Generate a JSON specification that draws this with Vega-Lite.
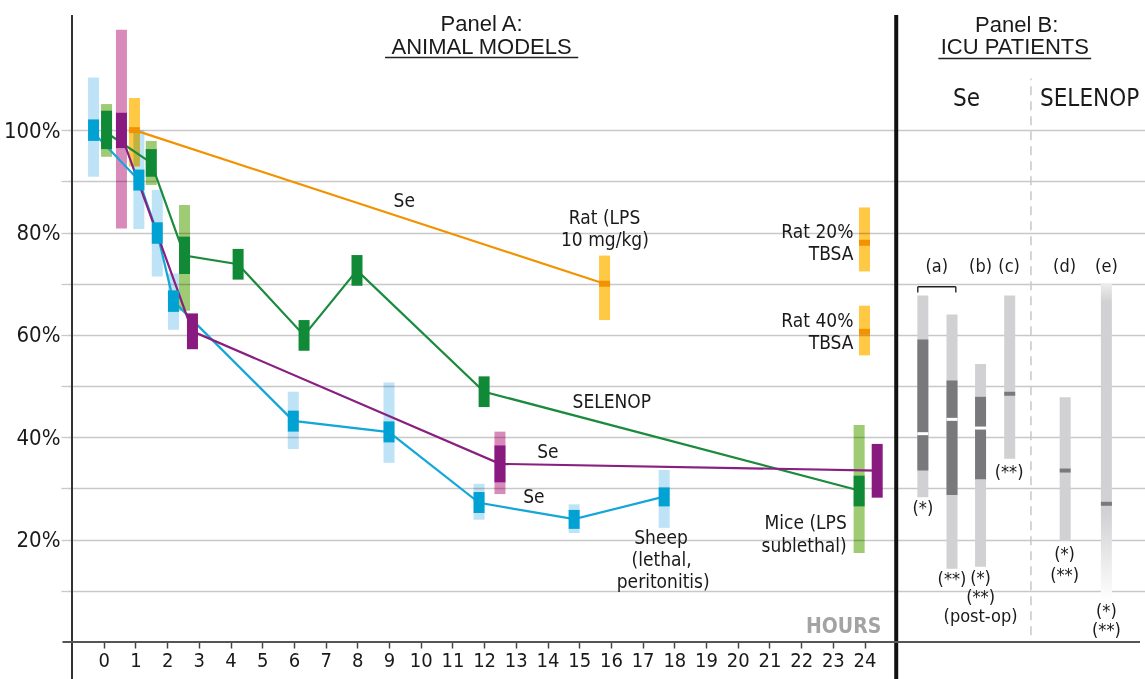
{
  "$schema": "https://vega.github.io/schema/vega-lite/v6.json",
  "width": 1078,
  "height": 627,
  "autosize": {"type": "none"},
  "padding": {"left": 67, "top": 15, "right": 0, "bottom": 37},
  "background": "white",
  "config": {
    "view": {"stroke": null},
    "font": "Liberation Sans Narrow, Arial Narrow, DejaVu Sans Condensed, sans-serif",
    "axis": {"labelFont": "Liberation Sans Narrow, Arial Narrow, DejaVu Sans Condensed, sans-serif"}
  },
  "datasets": {
    "ranges": [
      {"s": "sheep", "x": -0.32, "lo": 90.9, "hi": 110.3},
      {"s": "sheep", "x": 1.11, "lo": 80.7, "hi": 100.0},
      {"s": "sheep", "x": 1.69, "lo": 71.4, "hi": 88.3},
      {"s": "sheep", "x": 2.2, "lo": 61.0, "hi": 72.0},
      {"s": "sheep", "x": 5.98, "lo": 37.7, "hi": 48.9},
      {"s": "sheep", "x": 9.0, "lo": 35.0, "hi": 50.7},
      {"s": "sheep", "x": 11.84, "lo": 23.9, "hi": 30.9},
      {"s": "sheep", "x": 14.84, "lo": 21.3, "hi": 26.9},
      {"s": "sheep", "x": 17.68, "lo": 22.3, "hi": 33.6},
      {"s": "selenop", "x": 0.09, "lo": 94.8, "hi": 105.1},
      {"s": "selenop", "x": 1.5, "lo": 89.3, "hi": 97.9},
      {"s": "selenop", "x": 2.55, "lo": 64.7, "hi": 85.4},
      {"s": "selenop", "x": 23.83, "lo": 17.4, "hi": 42.4},
      {"s": "mice_se", "x": 0.56, "lo": 80.8, "hi": 119.6},
      {"s": "mice_se", "x": 12.5, "lo": 28.9, "hi": 41.1},
      {"s": "rat", "x": 0.97, "lo": 92.9, "hi": 106.3},
      {"s": "rat", "x": 15.8, "lo": 62.9, "hi": 75.5},
      {"s": "rat", "x": 24.0, "lo": 72.4, "hi": 84.9},
      {"s": "rat", "x": 24.0, "lo": 56.0, "hi": 65.7}
    ],
    "boxes": [
      {"s": "sheep", "x": -0.32, "lo": 97.9, "hi": 102.1},
      {"s": "sheep", "x": 1.11, "lo": 88.2, "hi": 92.3},
      {"s": "sheep", "x": 1.69, "lo": 77.8, "hi": 82.0},
      {"s": "sheep", "x": 2.2, "lo": 64.5, "hi": 68.7},
      {"s": "sheep", "x": 5.98, "lo": 41.1, "hi": 45.2},
      {"s": "sheep", "x": 9.0, "lo": 39.0, "hi": 43.1},
      {"s": "sheep", "x": 11.84, "lo": 25.2, "hi": 29.3},
      {"s": "sheep", "x": 14.84, "lo": 22.1, "hi": 25.8},
      {"s": "sheep", "x": 17.68, "lo": 26.5, "hi": 30.2},
      {"s": "selenop", "x": 0.09, "lo": 96.3, "hi": 103.8},
      {"s": "selenop", "x": 1.5, "lo": 90.9, "hi": 96.3},
      {"s": "selenop", "x": 2.55, "lo": 71.9, "hi": 79.2},
      {"s": "selenop", "x": 4.24, "lo": 70.8, "hi": 76.8},
      {"s": "selenop", "x": 6.32, "lo": 56.9, "hi": 62.9},
      {"s": "selenop", "x": 7.99, "lo": 69.6, "hi": 75.6},
      {"s": "selenop", "x": 12.0, "lo": 45.9, "hi": 51.9},
      {"s": "selenop", "x": 23.83, "lo": 26.5, "hi": 32.5},
      {"s": "mice_se", "x": 0.56, "lo": 96.5, "hi": 103.4},
      {"s": "mice_se", "x": 2.8, "lo": 57.2, "hi": 64.2},
      {"s": "mice_se", "x": 12.5, "lo": 31.2, "hi": 38.4},
      {"s": "mice_se", "x": 24.4, "lo": 28.2, "hi": 38.7}
    ],
    "centers": [
      {"s": "sheep", "x": -0.32, "y": 99.5},
      {"s": "sheep", "x": 1.11, "y": 90.2},
      {"s": "sheep", "x": 1.69, "y": 79.9},
      {"s": "sheep", "x": 2.2, "y": 66.6},
      {"s": "sheep", "x": 5.98, "y": 43.2},
      {"s": "sheep", "x": 9.0, "y": 41.0},
      {"s": "sheep", "x": 11.84, "y": 27.2},
      {"s": "sheep", "x": 14.84, "y": 24.0},
      {"s": "sheep", "x": 17.68, "y": 28.4},
      {"s": "selenop", "x": 0.09, "y": 99.5},
      {"s": "selenop", "x": 1.5, "y": 93.6},
      {"s": "selenop", "x": 2.55, "y": 75.5},
      {"s": "selenop", "x": 4.24, "y": 73.8},
      {"s": "selenop", "x": 6.32, "y": 59.9},
      {"s": "selenop", "x": 7.99, "y": 72.6},
      {"s": "selenop", "x": 12.0, "y": 48.9},
      {"s": "selenop", "x": 23.83, "y": 29.6},
      {"s": "mice_se", "x": 0.56, "y": 99.0},
      {"s": "mice_se", "x": 2.8, "y": 60.7},
      {"s": "mice_se", "x": 12.5, "y": 34.8},
      {"s": "mice_se", "x": 24.4, "y": 33.5},
      {"s": "rat", "x": 0.97, "y": 100.0},
      {"s": "rat", "x": 15.8, "y": 70.0}
    ],
    "ratmed": [
      {"x": 0.97, "y": 100.0},
      {"x": 15.8, "y": 70.0},
      {"x": 24.0, "y": 78.0},
      {"x": 24.0, "y": 60.6}
    ],
    "icu": [
      {"id": "a1", "x": 25.84, "lo": 28.3, "hi": 67.7, "q1": 33.5, "q3": 59.1, "med": 40.7},
      {"id": "a2", "x": 26.76, "lo": 14.3, "hi": 64.0, "q1": 28.7, "q3": 51.1, "med": 43.5},
      {"id": "b", "x": 27.66, "lo": 14.7, "hi": 54.3, "q1": 31.8, "q3": 47.9, "med": 41.8},
      {"id": "c", "x": 28.58, "lo": 35.8, "hi": 67.7, "q1": null, "q3": null, "med": 48.5},
      {"id": "d", "x": 30.33, "lo": 19.8, "hi": 47.8, "q1": null, "q3": null, "med": 33.5},
      {"id": "e", "x": 31.63, "lo": 8.1, "hi": 70.1, "q1": null, "q3": null, "med": 27.0}
    ],
    "vrules": [
      {"k": "axis", "x": -1.0, "y": -7.5, "y2": 122.5},
      {"k": "sep", "x": 25.0, "y": -7.5, "y2": 122.5},
      {"k": "dash", "x": 29.25, "y": 1.3, "y2": 110.1},
      {"k": "bracket", "x": 25.68, "y": 68.3, "y2": 69.4},
      {"k": "bracket", "x": 26.88, "y": 68.3, "y2": 69.4}
    ],
    "hrules": [
      {"k": "axis", "x": -1.3, "x2": 32.69, "y": 0},
      {"k": "under", "x": 8.875, "x2": 14.97, "y": 114.2},
      {"k": "under", "x": 26.33, "x2": 31.15, "y": 114.0},
      {"k": "bracket", "x": 25.68, "x2": 26.88, "y": 69.4}
    ],
    "texts": [
      {"g": "label", "t": "Se", "x": 9.48, "y": 86.2},
      {"g": "label", "t": "Rat (LPS", "x": 15.8, "y": 82.8},
      {"g": "label", "t": "10 mg/kg)", "x": 15.81, "y": 78.5},
      {"g": "label", "t": "SELENOP", "x": 16.03, "y": 46.8},
      {"g": "label", "t": "Se", "x": 14.01, "y": 37.1},
      {"g": "label", "t": "Se", "x": 13.57, "y": 28.4},
      {"g": "label", "t": "Sheep", "x": 17.58, "y": 20.3},
      {"g": "label", "t": "(lethal,", "x": 17.6, "y": 15.95},
      {"g": "label", "t": "peritonitis)", "x": 17.65, "y": 11.8},
      {"g": "labelR", "t": "Rat 20%", "x": 23.65, "y": 80.2},
      {"g": "labelR", "t": "TBSA", "x": 23.65, "y": 75.9},
      {"g": "labelR", "t": "Rat 40%", "x": 23.65, "y": 62.8},
      {"g": "labelR", "t": "TBSA", "x": 23.65, "y": 58.5},
      {"g": "labelR", "t": "Mice (LPS", "x": 23.44, "y": 23.3},
      {"g": "labelR", "t": "sublethal)", "x": 23.44, "y": 18.8},
      {"g": "title", "t": "Panel A:", "x": 11.92, "y": 120.8},
      {"g": "title", "t": "ANIMAL MODELS", "x": 11.92, "y": 116.3},
      {"g": "title", "t": "Panel B:", "x": 28.8, "y": 120.6},
      {"g": "title", "t": "ICU PATIENTS", "x": 28.74, "y": 116.2},
      {"g": "header", "t": "Se", "x": 27.22, "y": 106.1},
      {"g": "header", "t": "SELENOP", "x": 31.1, "y": 106.1},
      {"g": "note", "t": "(a)", "x": 26.28, "y": 73.3},
      {"g": "note", "t": "(b)", "x": 27.66, "y": 73.3},
      {"g": "note", "t": "(c)", "x": 28.56, "y": 73.3},
      {"g": "note", "t": "(d)", "x": 30.31, "y": 73.3},
      {"g": "note", "t": "(e)", "x": 31.63, "y": 73.3},
      {"g": "note", "t": "(*)", "x": 25.84, "y": 26.0},
      {"g": "note", "t": "(**)", "x": 26.76, "y": 12.1},
      {"g": "note", "t": "(*)", "x": 27.66, "y": 12.3},
      {"g": "note", "t": "(**)", "x": 27.66, "y": 8.6},
      {"g": "note", "t": "(post-op)", "x": 27.66, "y": 4.8},
      {"g": "note", "t": "(**)", "x": 28.56, "y": 33.0},
      {"g": "note", "t": "(*)", "x": 30.31, "y": 16.9},
      {"g": "note", "t": "(**)", "x": 30.31, "y": 12.9},
      {"g": "note", "t": "(*)", "x": 31.63, "y": 5.95},
      {"g": "note", "t": "(**)", "x": 31.63, "y": 2.2},
      {"g": "hours", "t": "HOURS", "x": 24.53, "y": 2.9}
    ]
  },
  "resolve": {"scale": {"color": "independent"}, "axis": {"x": "independent", "y": "independent"}},
  "layer": [
    {
      "data": {"name": "ranges"},
      "mark": {"type": "bar", "width": 11, "blend": "multiply"},
      "encoding": {
        "x": {"field": "x", "type": "quantitative", "scale": {"domain": [-1, 32.69], "nice": false, "zero": false},
          "axis": {"values": [0,1,2,3,4,5,6,7,8,9,10,11,12,13,14,15,16,17,18,19,20,21,22,23,24], "title": null, "grid": false, "domain": false,
            "tickColor": "#444444", "tickWidth": 1.5, "tickSize": 6, "labelFontSize": 20, "labelColor": "#1a1a1a", "labelPadding": 2, "labelFlush": false, "labelOverlap": false}},
        "y": {"field": "lo", "type": "quantitative", "scale": {"domain": [0, 122.5], "nice": false, "zero": false},
          "axis": {"values": [10,20,30,40,50,60,70,80,90,100], "title": null, "grid": true, "gridColor": "#c8c8c8", "gridWidth": 1.3, "domain": false,
            "tickColor": "#c8c8c8", "tickWidth": 1.3, "tickSize": 6, "labelExpr": "datum.value % 20 === 0 ? datum.value + '%' : ''",
            "labelFontSize": 22, "labelPadding": 1, "labelColor": "#1a1a1a", "labelOverlap": false, "labelFlush": false}},
        "y2": {"field": "hi"},
        "color": {"field": "s", "type": "nominal", "legend": null,
          "scale": {"domain": ["sheep", "selenop", "mice_se", "rat"], "range": ["#bfe3f6", "#9fcb74", "#d88bba", "#ffc845"]}}
      }
    },
    {
      "data": {"name": "icu"},
      "transform": [{"filter": "datum.id !== 'e'"}],
      "mark": {"type": "bar", "width": 11, "color": "#d1d1d3"},
      "encoding": {
        "x": {"field": "x", "type": "quantitative", "scale": {"domain": [-1, 32.69], "nice": false, "zero": false}, "axis": null},
        "y": {"field": "lo", "type": "quantitative", "scale": {"domain": [0, 122.5], "nice": false, "zero": false}, "axis": null},
        "y2": {"field": "hi"}
      }
    },
    {
      "data": {"name": "icu"},
      "transform": [{"filter": "datum.id === 'e'"}],
      "mark": {"type": "bar", "width": 11,
        "fill": {"gradient": "linear", "x1": 0, "y1": 0, "x2": 0, "y2": 1,
          "stops": [{"offset": 0, "color": "#eeeeee"}, {"offset": 0.06, "color": "#d1d1d3"}, {"offset": 0.72, "color": "#d1d1d3"}, {"offset": 1, "color": "#ffffff"}]}},
      "encoding": {
        "x": {"field": "x", "type": "quantitative", "scale": {"domain": [-1, 32.69], "nice": false, "zero": false}, "axis": null},
        "y": {"field": "lo", "type": "quantitative", "scale": {"domain": [0, 122.5], "nice": false, "zero": false}, "axis": null},
        "y2": {"field": "hi"}
      }
    },
    {
      "data": {"name": "centers"},
      "mark": {"type": "line", "strokeWidth": 2.2},
      "encoding": {
        "x": {"field": "x", "type": "quantitative", "scale": {"domain": [-1, 32.69], "nice": false, "zero": false}, "axis": null},
        "y": {"field": "y", "type": "quantitative", "scale": {"domain": [0, 122.5], "nice": false, "zero": false}, "axis": null},
        "order": {"field": "x", "type": "quantitative"},
        "color": {"field": "s", "type": "nominal", "legend": null,
          "scale": {"domain": ["sheep", "selenop", "mice_se", "rat"], "range": ["#14a6d8", "#1a8a3c", "#88207f", "#f39200"]}}
      }
    },
    {
      "data": {"name": "boxes"},
      "mark": {"type": "bar", "width": 11},
      "encoding": {
        "x": {"field": "x", "type": "quantitative", "scale": {"domain": [-1, 32.69], "nice": false, "zero": false}, "axis": null},
        "y": {"field": "lo", "type": "quantitative", "scale": {"domain": [0, 122.5], "nice": false, "zero": false}, "axis": null},
        "y2": {"field": "hi"},
        "color": {"field": "s", "type": "nominal", "legend": null,
          "scale": {"domain": ["sheep", "selenop", "mice_se"], "range": ["#00a2d3", "#118a38", "#881a80"]}}
      }
    },
    {
      "data": {"name": "ratmed"},
      "mark": {"type": "tick", "orient": "horizontal", "size": 11, "thickness": 6, "color": "#f39200", "opacity": 1},
      "encoding": {
        "x": {"field": "x", "type": "quantitative", "scale": {"domain": [-1, 32.69], "nice": false, "zero": false}, "axis": null},
        "y": {"field": "y", "type": "quantitative", "scale": {"domain": [0, 122.5], "nice": false, "zero": false}, "axis": null}
      }
    },
    {
      "data": {"name": "icu"},
      "transform": [{"filter": "isValid(datum.q1)"}],
      "mark": {"type": "bar", "width": 11, "color": "#79797b"},
      "encoding": {
        "x": {"field": "x", "type": "quantitative", "scale": {"domain": [-1, 32.69], "nice": false, "zero": false}, "axis": null},
        "y": {"field": "q1", "type": "quantitative", "scale": {"domain": [0, 122.5], "nice": false, "zero": false}, "axis": null},
        "y2": {"field": "q3"}
      }
    },
    {
      "data": {"name": "icu"},
      "transform": [{"filter": "isValid(datum.q1)"}],
      "mark": {"type": "tick", "orient": "horizontal", "size": 11, "thickness": 3, "color": "#ffffff", "opacity": 1},
      "encoding": {
        "x": {"field": "x", "type": "quantitative", "scale": {"domain": [-1, 32.69], "nice": false, "zero": false}, "axis": null},
        "y": {"field": "med", "type": "quantitative", "scale": {"domain": [0, 122.5], "nice": false, "zero": false}, "axis": null}
      }
    },
    {
      "data": {"name": "icu"},
      "transform": [{"filter": "!isValid(datum.q1)"}],
      "mark": {"type": "tick", "orient": "horizontal", "size": 11, "thickness": 4, "color": "#79797b", "opacity": 1},
      "encoding": {
        "x": {"field": "x", "type": "quantitative", "scale": {"domain": [-1, 32.69], "nice": false, "zero": false}, "axis": null},
        "y": {"field": "med", "type": "quantitative", "scale": {"domain": [0, 122.5], "nice": false, "zero": false}, "axis": null}
      }
    },
    {
      "data": {"name": "vrules"},
      "transform": [{"filter": "datum.k === 'axis'"}],
      "mark": {"type": "rule", "color": "#333333", "strokeWidth": 2},
      "encoding": {
        "x": {"field": "x", "type": "quantitative", "scale": {"domain": [-1, 32.69], "nice": false, "zero": false}, "axis": null},
        "y": {"field": "y", "type": "quantitative", "scale": {"domain": [0, 122.5], "nice": false, "zero": false}, "axis": null},
        "y2": {"field": "y2"}
      }
    },
    {
      "data": {"name": "vrules"},
      "transform": [{"filter": "datum.k === 'sep'"}],
      "mark": {"type": "rule", "color": "#111111", "strokeWidth": 4},
      "encoding": {
        "x": {"field": "x", "type": "quantitative", "scale": {"domain": [-1, 32.69], "nice": false, "zero": false}, "axis": null},
        "y": {"field": "y", "type": "quantitative", "scale": {"domain": [0, 122.5], "nice": false, "zero": false}, "axis": null},
        "y2": {"field": "y2"}
      }
    },
    {
      "data": {"name": "vrules"},
      "transform": [{"filter": "datum.k === 'dash'"}],
      "mark": {"type": "rule", "color": "#c8c8c8", "strokeWidth": 1.5, "strokeDash": [9, 6]},
      "encoding": {
        "x": {"field": "x", "type": "quantitative", "scale": {"domain": [-1, 32.69], "nice": false, "zero": false}, "axis": null},
        "y": {"field": "y", "type": "quantitative", "scale": {"domain": [0, 122.5], "nice": false, "zero": false}, "axis": null},
        "y2": {"field": "y2"}
      }
    },
    {
      "data": {"name": "vrules"},
      "transform": [{"filter": "datum.k === 'bracket'"}],
      "mark": {"type": "rule", "color": "#333333", "strokeWidth": 1.5},
      "encoding": {
        "x": {"field": "x", "type": "quantitative", "scale": {"domain": [-1, 32.69], "nice": false, "zero": false}, "axis": null},
        "y": {"field": "y", "type": "quantitative", "scale": {"domain": [0, 122.5], "nice": false, "zero": false}, "axis": null},
        "y2": {"field": "y2"}
      }
    },
    {
      "data": {"name": "hrules"},
      "transform": [{"filter": "datum.k === 'axis'"}],
      "mark": {"type": "rule", "color": "#555555", "strokeWidth": 2},
      "encoding": {
        "x": {"field": "x", "type": "quantitative", "scale": {"domain": [-1, 32.69], "nice": false, "zero": false}, "axis": null},
        "x2": {"field": "x2"},
        "y": {"field": "y", "type": "quantitative", "scale": {"domain": [0, 122.5], "nice": false, "zero": false}, "axis": null}
      }
    },
    {
      "data": {"name": "hrules"},
      "transform": [{"filter": "datum.k !== 'axis'"}],
      "mark": {"type": "rule", "color": "#222222", "strokeWidth": 1.5},
      "encoding": {
        "x": {"field": "x", "type": "quantitative", "scale": {"domain": [-1, 32.69], "nice": false, "zero": false}, "axis": null},
        "x2": {"field": "x2"},
        "y": {"field": "y", "type": "quantitative", "scale": {"domain": [0, 122.5], "nice": false, "zero": false}, "axis": null}
      }
    },
    {
      "data": {"name": "texts"},
      "transform": [{"filter": "datum.g === 'label'"}],
      "mark": {"type": "text", "fontSize": 19, "align": "center", "baseline": "middle", "color": "#1a1a1a"},
      "encoding": {
        "x": {"field": "x", "type": "quantitative", "scale": {"domain": [-1, 32.69], "nice": false, "zero": false}, "axis": null},
        "y": {"field": "y", "type": "quantitative", "scale": {"domain": [0, 122.5], "nice": false, "zero": false}, "axis": null},
        "text": {"field": "t"}
      }
    },
    {
      "data": {"name": "texts"},
      "transform": [{"filter": "datum.g === 'labelR'"}],
      "mark": {"type": "text", "fontSize": 19, "align": "right", "baseline": "middle", "color": "#1a1a1a"},
      "encoding": {
        "x": {"field": "x", "type": "quantitative", "scale": {"domain": [-1, 32.69], "nice": false, "zero": false}, "axis": null},
        "y": {"field": "y", "type": "quantitative", "scale": {"domain": [0, 122.5], "nice": false, "zero": false}, "axis": null},
        "text": {"field": "t"}
      }
    },
    {
      "data": {"name": "texts"},
      "transform": [{"filter": "datum.g === 'title'"}],
      "mark": {"type": "text", "fontSize": 22, "font": "Liberation Sans, Arial, sans-serif", "align": "center", "baseline": "middle", "color": "#1a1a1a"},
      "encoding": {
        "x": {"field": "x", "type": "quantitative", "scale": {"domain": [-1, 32.69], "nice": false, "zero": false}, "axis": null},
        "y": {"field": "y", "type": "quantitative", "scale": {"domain": [0, 122.5], "nice": false, "zero": false}, "axis": null},
        "text": {"field": "t"}
      }
    },
    {
      "data": {"name": "texts"},
      "transform": [{"filter": "datum.g === 'header'"}],
      "mark": {"type": "text", "fontSize": 24, "align": "center", "baseline": "middle", "color": "#1a1a1a"},
      "encoding": {
        "x": {"field": "x", "type": "quantitative", "scale": {"domain": [-1, 32.69], "nice": false, "zero": false}, "axis": null},
        "y": {"field": "y", "type": "quantitative", "scale": {"domain": [0, 122.5], "nice": false, "zero": false}, "axis": null},
        "text": {"field": "t"}
      }
    },
    {
      "data": {"name": "texts"},
      "transform": [{"filter": "datum.g === 'note'"}],
      "mark": {"type": "text", "fontSize": 18, "align": "center", "baseline": "middle", "color": "#1a1a1a"},
      "encoding": {
        "x": {"field": "x", "type": "quantitative", "scale": {"domain": [-1, 32.69], "nice": false, "zero": false}, "axis": null},
        "y": {"field": "y", "type": "quantitative", "scale": {"domain": [0, 122.5], "nice": false, "zero": false}, "axis": null},
        "text": {"field": "t"}
      }
    },
    {
      "data": {"name": "texts"},
      "transform": [{"filter": "datum.g === 'hours'"}],
      "mark": {"type": "text", "fontSize": 21, "fontWeight": "bold", "align": "right", "baseline": "middle", "color": "#a3a3a3"},
      "encoding": {
        "x": {"field": "x", "type": "quantitative", "scale": {"domain": [-1, 32.69], "nice": false, "zero": false}, "axis": null},
        "y": {"field": "y", "type": "quantitative", "scale": {"domain": [0, 122.5], "nice": false, "zero": false}, "axis": null},
        "text": {"field": "t"}
      }
    }
  ]
}
